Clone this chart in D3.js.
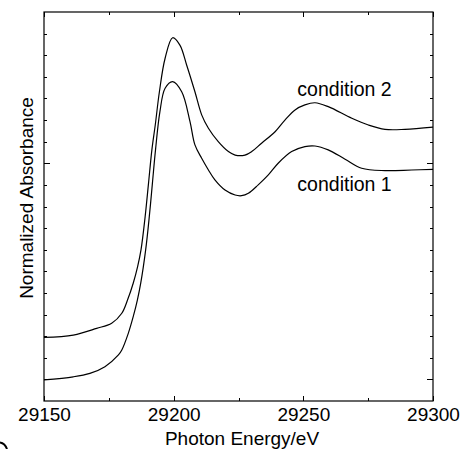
<!DOCTYPE html>
<meta charset="utf-8">
<style>
    body { margin: 0; background: #fff; }
    text { font-family: Arial, "Liberation Sans", sans-serif; fill: #000; }
    .axis path { display: none; }
    .axis line { stroke: #000; stroke-width: 1; shape-rendering: crispEdges; }
    .axis text { font-size: 19px; }
    .curve { fill: none; stroke: #000; stroke-width: 1.2; }
</style>
<svg class="chart"></svg>
<script src="https://d3js.org/d3.v7.min.js"></script>
<script>

    // condition 2 (upper trace)
    var energy2 = [29150.0, 29161.3, 29170.3, 29176.1, 29180.0, 29182.2, 29184.4, 29186.1, 29187.4, 29189.0,
        29190.3, 29191.6, 29192.9, 29194.5, 29196.7, 29199.6, 29202.4, 29205.0, 29208.2, 29210.8,
        29213.4, 29217.2, 29221.1, 29223.7, 29227.5, 29230.1, 29233.9, 29239.1, 29242.9, 29246.8,
        29250.6, 29254.5, 29259.6, 29268.7, 29275.1, 29281.5, 29289.2, 29300.0];
    var absorb2 = [0.194, 0.205, 0.236, 0.260, 0.306, 0.367, 0.445, 0.522, 0.599, 0.753,
        0.907, 1.062, 1.177, 1.331, 1.486, 1.581, 1.547, 1.455, 1.331, 1.224,
        1.162, 1.100, 1.054, 1.038, 1.038, 1.054, 1.093, 1.146, 1.200, 1.247,
        1.270, 1.280, 1.262, 1.208, 1.177, 1.157, 1.157, 1.167];

    // condition 1 (lower trace)
    var energy1 = [29150.0, 29161.3, 29167.7, 29173.5, 29178.7, 29180.0, 29182.5, 29184.4, 29186.0, 29187.3,
        29189.2, 29190.6, 29191.8, 29193.0, 29194.7, 29196.7, 29199.6, 29203.1, 29206.3,
        29208.2, 29210.8, 29213.4, 29215.9, 29219.8, 29223.7, 29226.2, 29228.8, 29232.6, 29236.5,
        29240.3, 29245.5, 29250.6, 29254.5, 29259.6, 29266.1, 29272.5, 29281.5, 29291.8, 29300.0];
    var absorb1 = [-0.002, 0.012, 0.028, 0.059, 0.113, 0.136, 0.213, 0.290, 0.367, 0.445,
        0.599, 0.753, 0.907, 1.062, 1.239, 1.347, 1.378, 1.331, 1.193,
        1.085, 1.023, 0.969, 0.923, 0.876, 0.853, 0.850, 0.861, 0.900, 0.946,
        1.000, 1.054, 1.077, 1.080, 1.062, 1.019, 0.977, 0.966, 0.969, 0.972];

    var xMajor = [29150, 29200, 29250, 29300];
    var xMinor = [29175, 29225, 29275];
    var yMajor = [0, 1];
    var yMinor = [0.1, 0.2, 0.3, 0.4, 0.5, 0.6, 0.7, 0.8, 0.9, 1.1, 1.2, 1.3, 1.4, 1.5, 1.6];

    var seriesNames = ["condition 2", "condition 1"];

    var margin = {top: 12, right: 37, bottom: 48, left: 44},
        width = 470 - margin.left - margin.right,
        height = 449 - margin.top - margin.bottom;

    var svg = d3.select(".chart")
        .attr("width", 470)
        .attr("height", 449);

    var chart = svg.append("g")
        .attr("transform", "translate(" + margin.left + "," + margin.top + ")");

    var x = d3.scaleLinear().domain([29150, 29300]).range([0, width]);
    var y = d3.scaleLinear().domain([-0.1, 1.7]).range([height, 0]);

    // bottom axis: labelled majors + inward minors
    chart.append("g").attr("class", "x axis")
        .attr("transform", "translate(0," + height + ")")
        .call(d3.axisBottom(x).tickValues(xMajor).tickSize(-5).tickPadding(6.5).tickFormat(d3.format("d")));
    chart.append("g").attr("class", "x axis")
        .attr("transform", "translate(0," + height + ")")
        .call(d3.axisBottom(x).tickValues(xMinor).tickSize(-3).tickFormat(""));

    // top axis, no labels
    chart.append("g").attr("class", "x axis")
        .call(d3.axisTop(x).tickValues(xMajor).tickSize(-5).tickFormat(""));
    chart.append("g").attr("class", "x axis")
        .call(d3.axisTop(x).tickValues(xMinor).tickSize(-3).tickFormat(""));

    // left / right axes, no labels
    chart.append("g").attr("class", "y axis")
        .call(d3.axisLeft(y).tickValues(yMajor).tickSize(-6).tickFormat(""));
    chart.append("g").attr("class", "y axis")
        .call(d3.axisLeft(y).tickValues(yMinor).tickSize(-3).tickFormat(""));
    chart.append("g").attr("class", "y axis")
        .attr("transform", "translate(" + width + ",0)")
        .call(d3.axisRight(y).tickValues(yMajor).tickSize(-6).tickFormat(""));
    chart.append("g").attr("class", "y axis")
        .attr("transform", "translate(" + width + ",0)")
        .call(d3.axisRight(y).tickValues(yMinor).tickSize(-3).tickFormat(""));

    // frame
    chart.append("rect")
        .attr("width", width)
        .attr("height", height)
        .attr("fill", "none")
        .attr("stroke", "#000")
        .attr("stroke-width", 1.2);

    var line = d3.line()
        .x(d => x(d[0]))
        .y(d => y(d[1]))
        .curve(d3.curveCatmullRom.alpha(0.5));

    chart.append("path").attr("class", "curve")
        .attr("d", line(d3.zip(energy2, absorb2)));
    chart.append("path").attr("class", "curve")
        .attr("d", line(d3.zip(energy1, absorb1)));

    // series labels
    chart.append("text")
        .attr("x", x(29247.7))
        .attr("y", y(1.310))
        .style("font-size", "19.5px")
        .text(seriesNames[0]);
    chart.append("text")
        .attr("x", x(29247.7))
        .attr("y", y(0.873))
        .style("font-size", "19.5px")
        .text(seriesNames[1]);

    // axis titles
    svg.append("text")
        .attr("x", 242)
        .attr("y", 445)
        .attr("text-anchor", "middle")
        .style("font-size", "19px")
        .text("Photon Energy/eV");

    svg.append("text")
        .attr("transform", "translate(33,198) rotate(-90)")
        .attr("text-anchor", "middle")
        .style("font-size", "19px")
        .text("Normalized Absorbance");

    // stray mark at the bottom-left corner of the original scan
    svg.append("path")
        .attr("d", "M0,442.5 Q5,443.5 7,449")
        .attr("fill", "none")
        .attr("stroke", "#000")
        .attr("stroke-width", 2);

</script>
